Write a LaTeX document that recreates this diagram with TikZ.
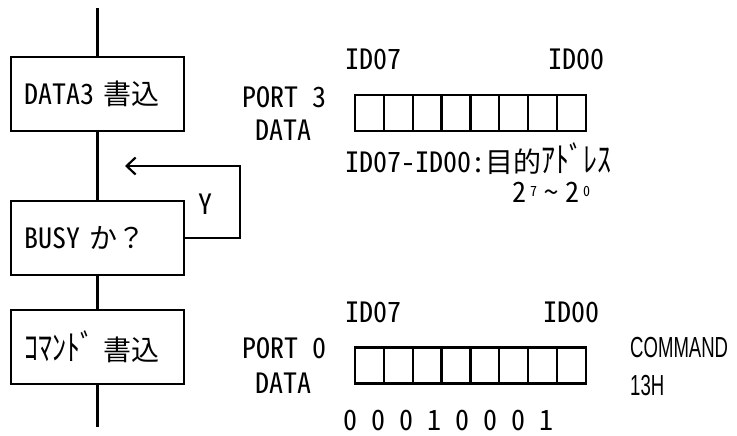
\documentclass[tikz,border=0pt]{standalone}
\usepackage{fontspec}
\setmainfont{Noto Sans CJK JP}[CharacterWidth=Half]
\newfontfamily\zenkaku{Noto Sans CJK JP}
\newfontfamily\cmdfont{Liberation Sans}[FakeStretch=0.64]
\newcommand\supdigit[1]{\raisebox{6pt}{\fontsize{14}{14}\selectfont #1}}
\newcommand\hankana[1]{\raisebox{0pt}[\height][0pt]{\scalebox{1}[1.25]{#1}}}
\usetikzlibrary{arrows.meta}

\begin{document}
\begin{tikzpicture}[x=1pt,y=-1pt,font=\fontsize{28}{32}\selectfont]
	\tikzstyle{flowbox}=[draw,line width=2.2pt,minimum height=74pt,text width=147pt,inner xsep=13pt,inner ysep=0pt,align=left]
	\tikzstyle{bitcell}=[draw,line width=2.2pt,minimum width=28.9pt,minimum height=36pt,inner sep=0pt]
	\tikzstyle{txt}=[inner sep=0pt]
	\tikzstyle{flow}=[line width=2.2pt]
	\useasboundingbox (0,0) rectangle (737,436);
	% flow chart
	\coordinate (start) at (97.5,8);
	\node [flowbox] (wrdata) at (97.5,94) {DATA3 {\zenkaku 書込}};
	\node [flowbox] (busy) at (97.5,238) {BUSY {\zenkaku か？}};
	\node [flowbox] (wrcmd) at (97.5,347) {\hankana{ｺﾏﾝﾄﾞ} {\zenkaku 書込}};
	\coordinate (finish) at (97.5,427);
	\draw [flow] (start) -- (wrdata) -- (busy) -- (wrcmd) -- (finish);
	% busy loop
	\coordinate (loopR) at (240,166);
	\coordinate (loopT) at (125,166);
	\draw [flow,-{Straight Barb[length=9pt,width=17pt]}] (busy.east) -| (loopR) -- (loopT);
	\node [txt,anchor=base] (yes) at (205,214) {Y};
	% port 3 data
	\node [txt,anchor=base west] (p3name) at (242,107) {PORT 3};
	\node [txt,anchor=base west] (p3data) at (255,140) {DATA};
	\foreach \i in {0,...,7}
		\node [bitcell] (p3-\i) at ({369.4+28.875*\i},113) {};
	\node [txt,anchor=base west] (p3msb) at (345,70) {ID07};
	\node [txt,anchor=base east] (p3lsb) at (605,70) {ID00};
	\node [txt,anchor=base west] (p3note) at (345,172) {ID07-ID00:{\zenkaku 目的}\hankana{ｱﾄﾞﾚｽ}};
	\node [txt,anchor=base west] (p3range) at (512,202) {2\hspace{4pt}\supdigit{7}\hspace{7pt}\textasciitilde\hspace{7pt}2\hspace{4pt}\supdigit{0}};
	% port 0 data
	\node [txt,anchor=base west] (p0name) at (242,358) {PORT 0};
	\node [txt,anchor=base west] (p0data) at (255,393) {DATA};
	\foreach \i in {0,...,7}
		\node [bitcell] (p0-\i) at ({369.4+28.875*\i},365.5) {};
	\node [txt,anchor=base west] (p0msb) at (345,322) {ID07};
	\node [txt,anchor=base east] (p0lsb) at (600,322) {ID00};
	\node [txt,anchor=base west] (p0bits) at (343,430) {0 0 0 1 0 0 0 1};
	\node [txt,anchor=base west,font=\cmdfont\fontsize{29}{32}\selectfont] (cmd) at (630,357) {COMMAND};
	\node [txt,anchor=base west,font=\cmdfont\fontsize{29}{32}\selectfont] (cmdhex) at (630,395) {13H};
\end{tikzpicture}
\end{document}
